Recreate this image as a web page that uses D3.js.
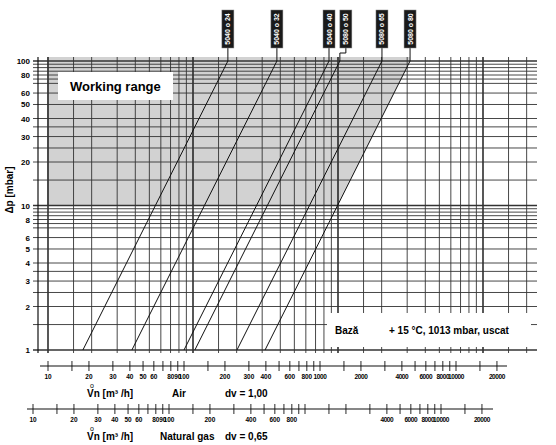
<!DOCTYPE html>
<html><head><meta charset="utf-8">
<script src="https://cdn.jsdelivr.net/npm/d3@7"></script>
<style>body{margin:0;background:#fff}svg{font-family:"Liberation Sans",Arial,sans-serif}</style>
</head><body><svg id="c" width="556" height="445"></svg>
<script>
// data
const valveNames = ["5040 o 24","5040 o 32","5040 o 40","5080 o 50","5080 o 65","5080 o 80"];
const flowAt1mbar = [17.4, 37.9, 86.7, 103, 201, 314]; // m3/h air at 1 mbar
const gridX = [10,15,20,30,40,50,60,70,80,90,100,150,200,300,400,500,600,700,800,900,1000,1500,2000,3000,4000,5000,6000,7000,8000,9000,10000,15000,20000];
const gridY = [1,1.5,2,2.5,3,3.5,4,5,6,7,7.5,8,8.5,9,9.5,10,15,20,25,30,35,40,50,60,70,75,80,85,90,95,100];
const yLabels = [1,2,3,4,5,6,8,10,20,30,40,50,60,80,100];
const airTicks = gridX;
const airLabels = [10,20,30,40,50,60,80,90,100,200,300,400,600,800,1000,2000,4000,6000,8000,10000,20000];
const gasTicks = gridX;
const gasLabels = [10,20,30,40,50,60,80,90,100,200,400,600,800,4000,6000,8000,10000,20000];

const svg = d3.select("#c");
const x = d3.scaleLog().domain([10,10000]).range([48,483]);
const y = d3.scaleLog().domain([1,100]).range([350,61]);
const xAir = d3.scaleLog().domain([10,10000]).range([48,456]);
const xGas = d3.scaleLog().domain([10,10000]).range([33,441]);

// grey working area: left of the largest valve curve
const qTop = flowAt1mbar[5];
const pts = d3.range(0,41).map(i=>{const p=10*Math.pow(10,i/40);return [x(qTop*Math.sqrt(p)),y(p)];});
const area = [[47,y(100)-4],[pts[40][0],y(100)-4]].concat(pts.slice().reverse()).concat([[47,y(10)]]);
svg.append("path").attr("d",d3.line()(area)+"Z").attr("fill","#d2d2d2");

// grid
svg.append("g").selectAll("line").data(gridX).join("line")
  .attr("x1",d=>x(d)).attr("x2",d=>x(d)).attr("y1",57).attr("y2",353)
  .attr("stroke",d=>[10,100,1000,10000].includes(d)?"#111":"#333").attr("stroke-width",d=>[10,100,1000,10000].includes(d)?1.4:0.9);
svg.append("g").selectAll("line").data(gridY).join("line")
  .attr("x1",33).attr("x2",537).attr("y1",d=>y(d)).attr("y2",d=>y(d))
  .attr("stroke","#333").attr("stroke-width",d=>[1,10,100].includes(d)?1.3:0.9);

// y axis
svg.append("line").attr("x1",38).attr("x2",38).attr("y1",57).attr("y2",353).attr("stroke","#111").attr("stroke-width",1.2);
svg.append("g").selectAll("text").data(yLabels).join("text")
  .attr("x",30).attr("y",d=>y(d)+3).attr("text-anchor","end").attr("font-size",8).attr("font-weight","bold").text(d=>d);
svg.append("text").attr("transform","translate(13,190) rotate(-90)").attr("text-anchor","middle")
  .attr("font-size",10).attr("font-weight","bold").text("Δp [mbar]");

// working range box
svg.append("rect").attr("x",58).attr("y",72).attr("width",115).attr("height",28).attr("fill","#fff");
svg.append("text").attr("x",70).attr("y",91).attr("font-size",13).attr("font-weight","bold").text("Working range");

// base box
svg.append("rect").attr("x",327).attr("y",313).attr("width",204).attr("height",34).attr("fill","#fff");
svg.append("text").attr("x",335).attr("y",334).attr("font-size",10).attr("font-weight","bold").text("Bază");
svg.append("text").attr("x",389).attr("y",334).attr("font-size",10).attr("font-weight","bold").text("+ 15 °C, 1013 mbar, uscat");

// valve lines and labels
flowAt1mbar.forEach((q,i)=>{
  const x0=x(q), x1=x(q*10);
  svg.append("line").attr("x1",x0).attr("y1",y(1)).attr("x2",x1).attr("y2",y(100)).attr("stroke","#111").attr("stroke-width",1);
  const lx = i===3 ? x1+6 : x1;
  const conn = i===3 ? `M${x1},${y(100)}V53H${lx}V48` : `M${x1},${y(100)}V48`;
  svg.append("path").attr("d",conn).attr("fill","none").attr("stroke","#111").attr("stroke-width",1);
  svg.append("rect").attr("x",lx-6).attr("y",10).attr("width",12).attr("height",38).attr("fill","#1a1a1a").attr("stroke","#888").attr("stroke-width",0.5);
  svg.append("text").attr("transform",`translate(${lx+2.5},29) rotate(-90)`).attr("text-anchor","middle")
    .attr("font-size",7).attr("font-weight","bold").attr("fill","#fff").text(valveNames[i]);
});

// bottom axes
function flowAxis(sc,yy,x0,x1,ticks,labels,gasName,dv){
  const g=svg.append("g");
  g.append("line").attr("x1",x0).attr("x2",x1).attr("y1",yy).attr("y2",yy).attr("stroke","#111").attr("stroke-width",1.2);
  g.selectAll("line.t").data(ticks).join("line").attr("class","t")
    .attr("x1",d=>sc(d)).attr("x2",d=>sc(d)).attr("y1",yy-5).attr("y2",yy+5).attr("stroke","#111").attr("stroke-width",0.9);
  g.selectAll("text.l").data(labels).join("text").attr("class","l")
    .attr("x",d=>sc(d)).attr("y",yy+13).attr("text-anchor","middle").attr("font-size",6.5)
    .attr("letter-spacing",d=>String(d).length>=4?-0.4:0).attr("font-weight","bold").text(d=>d);
  g.append("text").attr("x",90).attr("y",yy+22).attr("font-size",7).text("o");
  g.append("text").attr("x",87).attr("y",yy+31).attr("font-size",10).attr("font-weight","bold").text("Vn [m³ /h]");
  g.append("text").attr("x",gasName==="Air"?172:160).attr("y",yy+31).attr("font-size",10).attr("font-weight","bold").text(gasName);
  g.append("text").attr("x",225).attr("y",yy+31).attr("font-size",10).attr("font-weight","bold").text("dv = "+dv);
}
flowAxis(xAir,366,40,507,airTicks,airLabels,"Air","1,00");
flowAxis(xGas,409,27,493,gasTicks,gasLabels,"Natural gas","0,65");
</script></body></html>
